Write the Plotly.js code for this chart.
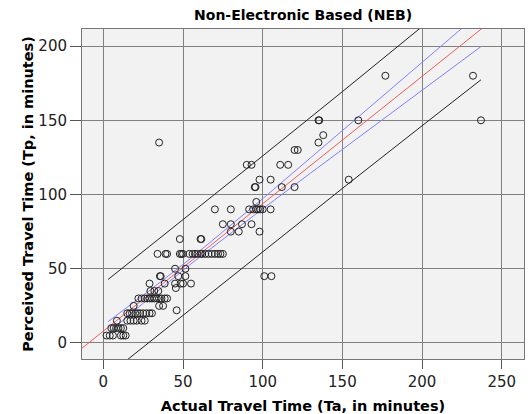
<!DOCTYPE html>
<html>
<head>
<meta charset="utf-8">
<script src="https://cdn.plot.ly/plotly-3.0.1.min.js"></script>
<style>html,body{margin:0;padding:0;background:#fff;}#chart{width:528px;height:414px;}</style>
</head>
<body>
<div id="chart"></div>
<script>
// Observed points: actual travel time (Ta) vs perceived travel time (Tp)
const actualTime = [
  2, 4, 6, 11, 12.5, 14,
  5, 6.5, 8, 9.5, 11, 12.5,
  8.5, 15, 17, 19, 21, 24, 26,
  15, 16.5, 18, 20, 21.5, 23, 25, 27, 29, 30.5,
  19, 35, 37.5, 46,
  22, 24, 26, 27.5, 29, 30.5, 32, 33.5, 35, 36.5, 38.5, 40,
  29.5, 32, 34.5,
  29, 38.5, 45, 48.5, 50, 55, 45.5,
  35.5, 36, 47, 51.5, 101, 105.5,
  45, 51.5,
  34, 39, 40, 48, 49, 50, 54, 56, 57.5, 59, 61, 62, 64, 66, 68, 70, 72, 73.5, 75,
  48, 61, 61.5,
  80, 85, 98,
  75, 80, 87, 93,
  70, 80, 91.5, 94, 96, 97, 98.5, 100, 105,
  96,
  95, 95.5, 112, 120,
  98, 105, 154,
  90, 93, 111, 116,
  120, 122,
  35, 135,
  138,
  135, 135.5, 160, 237,
  177, 232
];
const perceivedTime = [
  5, 5, 5, 5, 5, 5,
  10, 10, 10, 10, 10, 10,
  15, 15, 15, 15, 15, 15, 15,
  20, 20, 20, 20, 20, 20, 20, 20, 20, 20,
  25, 25, 25, 22,
  30, 30, 30, 30, 30, 30, 30, 30, 30, 30, 30, 30,
  35, 35, 35,
  40, 40, 40, 40, 40, 40, 37,
  45, 45, 45, 45, 45, 45,
  50, 50,
  60, 60, 60, 60, 60, 60, 60, 60, 60, 60, 60, 60, 60, 60, 60, 60, 60, 60, 60,
  70, 70, 70,
  75, 75, 75,
  80, 80, 80, 80,
  90, 90, 90, 90, 90, 90, 90, 90, 90,
  95,
  105, 105, 105, 105,
  110, 110, 110,
  120, 120, 120, 120,
  130, 130,
  135, 135,
  140,
  150, 150, 150, 150,
  180, 180
];

// Fit line (total)
const fitX = [-15, 240];
const fitY = [-4.9, 213.9];

// Mean confidence band
const ciX = [3, 30, 55, 80, 100, 130, 160, 200, 237];
const ciUpper = [14.4, 36.2, 57.1, 79.1, 97.2, 124.7, 152.2, 189.0, 223.0];
const ciLower = [6.8, 31.3, 53.3, 74.2, 90.4, 114.4, 138.4, 170.2, 199.7];

// Individual prediction band
const piX = [3, 55, 100, 150, 200, 237];
const piUpper = [42.8, 87.2, 126.0, 169.3, 212.9, 245.5];
const piLower = [-21.6, 23.1, 61.6, 104.1, 146.3, 177.3];

const xTicks = [0, 50, 100, 150, 200, 250];
const yTicks = [0, 50, 100, 150, 200];

const fontFam = '"DejaVu Sans", "Liberation Sans", sans-serif';

const traces = [
  {x: piX, y: piUpper, mode: 'lines', line: {color: '#222', width: 1}, hoverinfo: 'skip', showlegend: false},
  {x: piX, y: piLower, mode: 'lines', line: {color: '#222', width: 1}, hoverinfo: 'skip', showlegend: false},
  {x: ciX, y: ciUpper, mode: 'lines', line: {color: '#8080ff', width: 1}, hoverinfo: 'skip', showlegend: false},
  {x: ciX, y: ciLower, mode: 'lines', line: {color: '#8080ff', width: 1}, hoverinfo: 'skip', showlegend: false},
  {x: fitX, y: fitY, mode: 'lines', line: {color: '#f05a5a', width: 1}, hoverinfo: 'skip', showlegend: false},
  {x: actualTime, y: perceivedTime, mode: 'markers', type: 'scatter',
   marker: {symbol: 'circle-open', size: 7, color: '#222', line: {width: 1, color: '#222'}}, showlegend: false}
];

const layout = {
  width: 528, height: 414,
  margin: {l: 82, r: 4, t: 29, b: 55},
  paper_bgcolor: '#ffffff',
  plot_bgcolor: '#f2f2f2',
  font: {family: fontFam, color: '#222'},
  title: {text: '<b>Non-Electronic Based (NEB)</b>', font: {size: 14, family: fontFam, color: '#000'},
          x: 0.574, xanchor: 'center', y: 0.963, yanchor: 'middle'},
  xaxis: {
    range: [-13.4, 264], tickvals: xTicks, ticktext: xTicks.map(String),
    ticks: 'outside', ticklen: 9, tickcolor: '#555', tickwidth: 1,
    showgrid: true, gridcolor: '#808080', gridwidth: 1, zeroline: false,
    showline: true, linecolor: '#777', linewidth: 1, mirror: true,
    tickfont: {size: 15, color: '#222'},
    title: {text: '<b>Actual Travel Time (Ta, in minutes)</b>', font: {size: 14.5, color: '#000'}, standoff: 10}
  },
  yaxis: {
    range: [-10.8, 211.5], tickvals: yTicks, ticktext: yTicks.map(String),
    ticks: 'outside', ticklen: 11, tickcolor: '#555', tickwidth: 1,
    showgrid: true, gridcolor: '#808080', gridwidth: 1, zeroline: false,
    showline: true, linecolor: '#777', linewidth: 1, mirror: true,
    tickfont: {size: 15, color: '#222'},
    title: {text: '<b>Perceived Travel Time (Tp, in minutes)</b>', font: {size: 14.5, color: '#000'}, standoff: 1}
  }
};

Plotly.newPlot('chart', traces, layout, {displayModeBar: false, staticPlot: true});
</script>
</body>
</html>
